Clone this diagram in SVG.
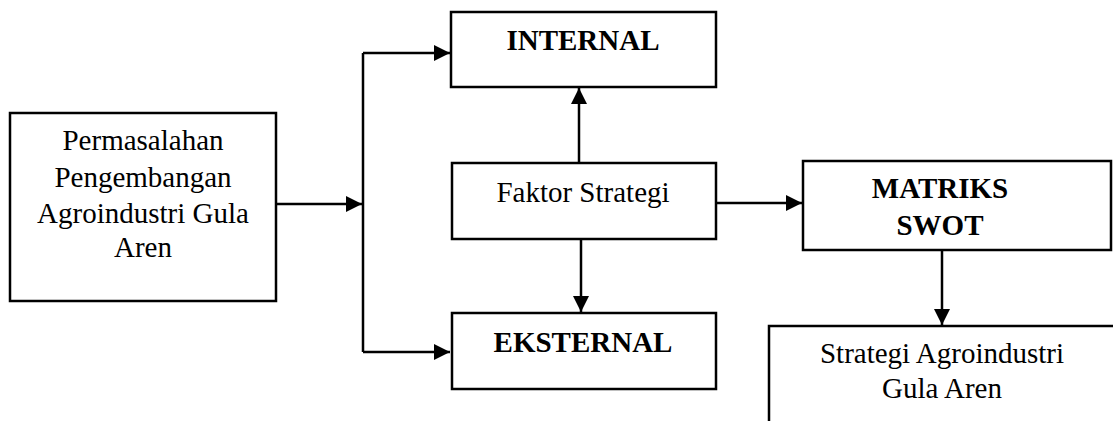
<svg xmlns="http://www.w3.org/2000/svg" width="1113" height="421" viewBox="0 0 1113 421">
<style>
.box{fill:#fff;stroke:#000;stroke-width:2.5}
.t{font-family:"Liberation Serif","Times New Roman",serif;font-size:29px;fill:#000;text-anchor:middle}
.b{font-weight:bold}
.c{fill:none;stroke:#000;stroke-width:2.5}
</style>
<defs>
<marker id="ah" markerUnits="userSpaceOnUse" markerWidth="18" markerHeight="18" viewBox="0 0 18 18" refX="16" refY="9" orient="auto">
<path d="M0,1 L16,9 L0,17 Z" fill="#000"/>
</marker>
</defs>
<g id="connectors">
<path class="c" d="M276,204 H362" marker-end="url(#ah)"/>
<path class="c" d="M363,53 V352"/>
<path class="c" d="M363,53 H450" marker-end="url(#ah)"/>
<path class="c" d="M363,352 H450" marker-end="url(#ah)"/>
<path class="c" d="M579,163 V88" marker-end="url(#ah)"/>
<path class="c" d="M581,239 V312" marker-end="url(#ah)"/>
<path class="c" d="M716,203 H802" marker-end="url(#ah)"/>
<path class="c" d="M942,250 V325" marker-end="url(#ah)"/>
</g>
<g id="permasalahan">
<rect class="box" x="10" y="113" width="266" height="188"/>
<text class="t" x="143" y="150">Permasalahan</text>
<text class="t" x="143" y="187">Pengembangan</text>
<text class="t" x="143" y="223">Agroindustri Gula</text>
<text class="t" x="143" y="257">Aren</text>
</g>
<g id="internal">
<rect class="box" x="451" y="12" width="265" height="75"/>
<text class="t b" x="583" y="50">INTERNAL</text>
</g>
<g id="faktor">
<rect class="box" x="452" y="163" width="264" height="76"/>
<text class="t" x="583" y="202">Faktor Strategi</text>
</g>
<g id="eksternal">
<rect class="box" x="452" y="313" width="264" height="76"/>
<text class="t b" x="583" y="352">EKSTERNAL</text>
</g>
<g id="matriks">
<rect class="box" x="803" y="161" width="308" height="89"/>
<text class="t b" x="940" y="198">MATRIKS</text>
<text class="t b" x="940" y="235">SWOT</text>
</g>
<g id="strategi">
<rect class="box" x="769" y="326" width="360" height="120"/>
<text class="t" x="942" y="363">Strategi Agroindustri</text>
<text class="t" x="942" y="398">Gula Aren</text>
</g>
</svg>
